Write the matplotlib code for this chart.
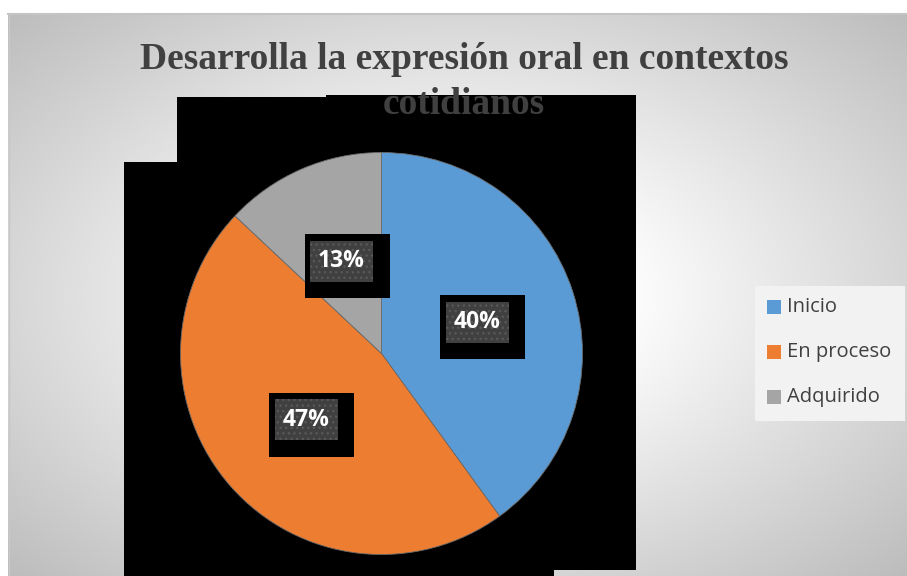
import numpy as np
import matplotlib
matplotlib.use('Agg')
import matplotlib.pyplot as plt
from matplotlib.patches import Rectangle, Polygon

# ---- data ----
categories = ['Inicio', 'En proceso', 'Adquirido']
values = [40, 47, 13]
pct_labels = ['40%', '47%', '13%']
colors = ['#5B9BD5', '#ED7D31', '#A5A5A5']
title_lines = ['Desarrolla la expresión oral en contextos', 'cotidianos']

W, H = 907, 576
fig = plt.figure(figsize=(W / 100, H / 100), dpi=100, facecolor='white')
bg = fig.add_axes([0, 0, 1, 1])

# radial gradient background of the chart area
x0, y0 = 8, 13
xs = np.linspace(x0, W, 450)
ys = np.linspace(y0, H, 282)
X, Y = np.meshgrid(xs, ys)
cx, cy = (x0 + W) / 2, (y0 + H) / 2
r = np.sqrt(((X - cx) / ((W - x0) / 2)) ** 2 + ((Y - cy) / ((H - y0) / 2)) ** 2)
g = 1 - 0.26 * np.clip((r - 0.35) / 1.06, 0, 1)
bg.imshow(np.dstack([g, g, g]), extent=(x0, W, H, y0), aspect='auto',
          interpolation='bilinear', zorder=0)
bg.set_xlim(0, W)
bg.set_ylim(H, 0)
bg.axis('off')
bg.plot([x0, W], [y0 + 0.5, y0 + 0.5], color='#c4c4c4', lw=1.5, zorder=1)
bg.plot([x0 + 0.5, x0 + 0.5], [y0, H], color='#c8c8c8', lw=1.0, zorder=1)

# black region behind the pie
verts = [(177, 97), (326, 97), (326, 95), (636, 95), (636, 570), (554, 570),
         (554, 576), (124, 576), (124, 162), (177, 162)]
bg.add_patch(Polygon(verts, closed=True, facecolor='black', edgecolor='none', zorder=2))

# title
title_kw = dict(ha='center', va='baseline', fontsize=27, fontweight='bold',
                family='Liberation Serif', color='#404040', zorder=5)
bg.text(464, 69, title_lines[0], **title_kw)
bg.text(464, 114, title_lines[1], **title_kw)

# legend
bg.add_patch(Rectangle((755, 286), 150, 135, facecolor='#f2f2f2', edgecolor='none', zorder=3))
for i, (lab, col) in enumerate(zip(categories, colors)):
    yc = 307 + 45 * i
    bg.add_patch(Rectangle((767, yc - 7), 14, 14, facecolor=col, edgecolor='none', zorder=4))
    bg.text(787, yc, lab, ha='left', va='center', fontsize=14.5, family='Open Sans',
            color='#404040', zorder=4)

# pie
R_PX = 201
ccx, ccy = 381.5, 353.5
ax = fig.add_axes([(ccx - R_PX) / W, (H - ccy - R_PX) / H, 2 * R_PX / W, 2 * R_PX / H])
ax.patch.set_alpha(0)
wedges, _ = ax.pie(values, colors=colors, startangle=90, counterclock=False, radius=1,
                   wedgeprops=dict(linewidth=0.6, edgecolor='#6a6a6a'))
ax.set_xlim(-1, 1)
ax.set_ylim(-1, 1)
ax.axis('off')

px = 1.0 / R_PX
for w, lab in zip(wedges, pct_labels):
    mid = np.deg2rad((w.theta1 + w.theta2) / 2)
    tx, ty = 0.5 * np.cos(mid), 0.5 * np.sin(mid)
    ax.add_patch(Rectangle((tx - 37 * px, ty - 37 * px), 85 * px, 64 * px,
                           facecolor='black', edgecolor='none', zorder=5))
    ax.add_patch(Rectangle((tx - 31.5 * px, ty - 20.5 * px), 63 * px, 41 * px,
                           facecolor='#404040', edgecolor='#585858', linewidth=0,
                           hatch='...', zorder=6))
    ax.text(tx, ty, lab, ha='center', va='center', fontsize=16.5, fontweight='bold',
            family='Open Sans', color='white', zorder=7)

fig.savefig('out.png', dpi=100, facecolor='white')
